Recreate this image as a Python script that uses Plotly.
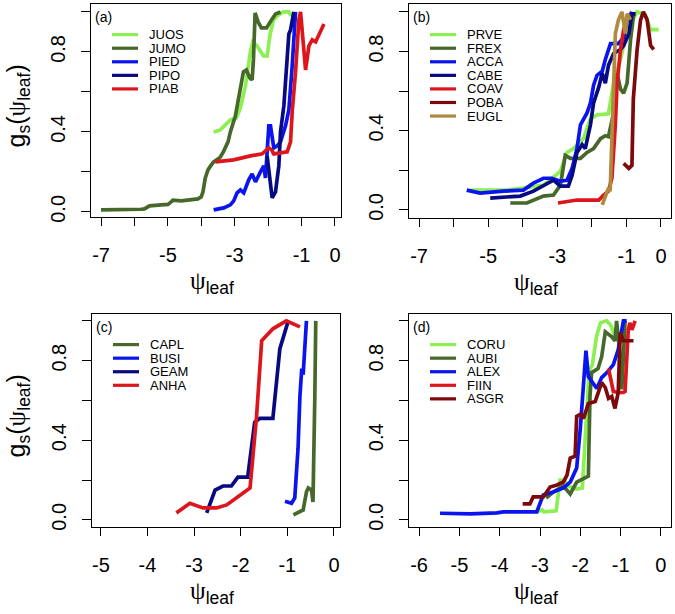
import plotly.graph_objects as go

# ---------------- data ----------------
# Panel (a)
JUOS_x = [-3.63, -3.43, -3.13, -2.95, -2.83, -2.68, -2.53, -2.46, -2.33, -2.14, -2.03, -1.94, -1.84, -1.73, -1.55, -1.38, -1.31]
JUOS_y = [0.40, 0.41, 0.46, 0.47, 0.52, 0.63, 0.80, 0.85, 0.83, 0.78, 0.78, 0.89, 0.96, 0.98, 1.0, 1.0, 0.98]
JUMO_x = [-7.0, -6.4, -5.8, -5.7, -5.55, -5.2, -5.0, -4.9, -4.85, -4.6, -4.4, -4.1, -4.0, -3.95, -3.88, -3.80, -3.70, -3.63,
          -3.45, -3.34, -3.20, -3.13, -2.98, -2.83, -2.74, -2.65, -2.55, -2.48, -2.44, -2.39, -2.30, -2.20, -2.05, -1.90, -1.78, -1.63]
JUMO_y = [0.01, 0.01, 0.013, 0.015, 0.03, 0.035, 0.037, 0.05, 0.058, 0.055, 0.06, 0.065, 0.075, 0.10, 0.17, 0.21, 0.235, 0.25,
          0.27, 0.30, 0.35, 0.40, 0.48, 0.61, 0.70, 0.71, 0.67, 0.66, 0.76, 0.995, 0.95, 0.92, 0.92, 0.96, 0.99, 1.0]
PIED_x = [-3.63, -3.33, -3.13, -3.03, -2.93, -2.83, -2.73, -2.58, -2.48, -2.38, -2.23, -2.13, -2.08, -2.03, -1.98, -1.93,
          -1.88, -1.83, -1.73, -1.63, -1.48, -1.38, -1.28, -1.18]
PIED_y = [0.01, 0.02, 0.035, 0.055, 0.095, 0.11, 0.095, 0.16, 0.19, 0.15, 0.20, 0.23, 0.17, 0.30, 0.43, 0.43,
          0.36, 0.32, 0.33, 0.35, 0.43, 0.51, 0.73, 1.0]
PIPO_x = [-2.03, -1.97, -1.92, -1.88, -1.78, -1.68, -1.63, -1.53, -1.48, -1.43, -1.38, -1.33, -1.28, -1.23]
PIPO_y = [0.28, 0.20, 0.12, 0.07, 0.10, 0.23, 0.40, 0.53, 0.65, 0.76, 0.89, 0.91, 0.96, 1.0]
PIAB_x = [-3.58, -3.03, -2.53, -2.18, -1.98, -1.90, -1.83, -1.43, -1.33, -1.28, -1.18, -1.13, -1.08, -1.03, -0.98, -0.88,
          -0.78, -0.68, -0.58, -0.48, -0.33]
PIAB_y = [0.25, 0.26, 0.28, 0.29, 0.32, 0.31, 0.29, 0.30, 0.35, 0.50, 0.70, 0.86, 0.96, 1.0, 0.89, 0.71,
          0.83, 0.86, 0.85, 0.89, 0.94]

# Panel (b)
PRVE_x = [-5.52, -4.5, -3.98, -3.40, -2.91, -2.72, -2.53, -2.24, -2.04, -1.85, -1.52, -1.37, -1.17, -0.98, -0.69, -0.45, -0.30, -0.07]
PRVE_y = [0.10, 0.10, 0.11, 0.125, 0.195, 0.29, 0.31, 0.36, 0.46, 0.48, 0.485, 0.64, 0.76, 0.91, 1.0, 0.985, 0.91, 0.91]
FREX_x = [-4.36, -3.88, -3.40, -3.11, -2.91, -2.77, -2.62, -2.33, -2.14, -1.95, -1.75, -1.61, -1.52, -1.37, -1.27, -1.17,
          -1.08, -0.98, -0.88, -0.78]
FREX_y = [0.035, 0.035, 0.07, 0.075, 0.125, 0.275, 0.26, 0.26, 0.29, 0.31, 0.36, 0.375, 0.37, 0.49, 0.69, 0.61,
          0.59, 0.64, 0.86, 1.0]
ACCA_x = [-5.62, -5.23, -4.56, -3.98, -3.69, -3.40, -3.16, -2.91, -2.72, -2.57, -2.43, -2.33, -2.14, -2.04, -1.95, -1.85,
          -1.70, -1.61, -1.46, -1.23, -1.08, -0.98, -0.84]
ACCA_y = [0.10, 0.085, 0.095, 0.10, 0.135, 0.16, 0.16, 0.145, 0.15, 0.21, 0.31, 0.43, 0.49, 0.54, 0.63, 0.68,
          0.70, 0.76, 0.84, 0.84, 0.87, 0.96, 1.0]
CABE_x = [-4.94, -4.07, -3.69, -3.40, -3.11, -2.91, -2.68, -2.57, -2.43, -2.28, -2.19, -2.04, -1.95, -1.80, -1.70, -1.61,
          -1.52, -1.37, -1.17, -1.08, -0.93, -0.84, -0.74]
CABE_y = [0.06, 0.07, 0.095, 0.125, 0.15, 0.12, 0.12, 0.175, 0.29, 0.33, 0.31, 0.43, 0.54, 0.62, 0.69, 0.64,
          0.73, 0.79, 0.81, 0.83, 0.89, 0.99, 0.99]
COAV_x = [-2.98, -2.43, -1.95, -1.80, -1.66, -1.52, -1.42, -1.32, -1.27, -1.17, -1.08, -0.93]
COAV_y = [0.035, 0.05, 0.05, 0.05, 0.075, 0.095, 0.16, 0.43, 0.64, 0.81, 0.91, 0.99]
POBA_x = [-1.08, -0.93, -0.84, -0.80, -0.69, -0.59, -0.51, -0.40, -0.30, -0.21]
POBA_y = [0.235, 0.21, 0.225, 0.56, 0.81, 0.96, 1.0, 0.96, 0.83, 0.81]
EUGL_x = [-1.70, -1.61, -1.52, -1.47, -1.42, -1.37, -1.32, -1.23, -1.13, -1.03, -0.98, -0.88]
EUGL_y = [0.025, 0.075, 0.11, 0.095, 0.39, 0.73, 0.89, 0.96, 1.0, 0.89, 0.99, 0.96]

# Panel (c)
CAPL_x = [-0.87, -0.73, -0.66, -0.59, -0.55, -0.48, -0.45, -0.41, -0.39]
CAPL_y = [0.025, 0.04, 0.05, 0.14, 0.16, 0.15, 0.09, 0.62, 1.0]
BUSI_x = [-1.05, -0.91, -0.84, -0.77, -0.73, -0.69, -0.66, -0.62, -0.59]
BUSI_y = [0.093, 0.083, 0.11, 0.36, 0.62, 0.76, 0.73, 0.87, 1.0]
GEAM_x = [-2.73, -2.55, -2.38, -2.20, -2.06, -1.85, -1.70, -1.59, -1.31, -1.16, -0.98]
GEAM_y = [0.035, 0.15, 0.17, 0.17, 0.215, 0.215, 0.49, 0.51, 0.51, 0.86, 1.0]
ANHA_x = [-3.38, -3.09, -2.81, -2.52, -2.30, -2.02, -1.80, -1.66, -1.55, -1.31, -1.02, -0.73]
ANHA_y = [0.035, 0.083, 0.06, 0.06, 0.075, 0.125, 0.16, 0.52, 0.90, 0.96, 1.0, 0.97]

# Panel (d)
CORU_x = [-3.10, -2.95, -2.90, -2.60, -2.50, -2.40, -2.30, -2.10, -1.95, -1.85, -1.78, -1.70, -1.60, -1.50, -1.35, -1.25,
          -1.15, -1.05, -0.85]
CORU_y = [0.04, 0.05, 0.04, 0.045, 0.20, 0.20, 0.17, 0.155, 0.16, 0.50, 0.75, 0.78, 0.92, 0.99, 1.0, 0.98,
          0.93, 0.90, 0.90]
AUBI_x = [-2.85, -2.67, -2.42, -2.25, -2.09, -1.92, -1.80, -1.76, -1.72, -1.56, -1.47, -1.38, -1.22, -1.14, -1.10, -1.01,
          -0.97, -0.89]
AUBI_y = [0.11, 0.14, 0.17, 0.13, 0.19, 0.21, 0.22, 0.62, 0.74, 0.76, 0.82, 0.945, 0.92, 0.90, 1.0, 0.82,
          0.655, 1.0]
ALEX_x = [-5.48, -4.73, -4.07, -3.91, -3.08, -2.92, -2.67, -2.42, -2.25, -2.09, -2.00, -1.92, -1.86, -1.80, -1.59, -1.47,
          -1.34, -1.18, -1.06, -0.93, -0.85]
ALEX_y = [0.033, 0.03, 0.035, 0.04, 0.04, 0.125, 0.14, 0.16, 0.19, 0.26, 0.46, 0.71, 0.85, 0.72, 0.66, 0.715,
          0.74, 0.78, 0.855, 1.0, 1.0]
FIIN_x = [-1.30, -1.18, -1.01, -0.93, -0.89, -0.85, -0.81, -0.77, -0.72, -0.64]
FIIN_y = [0.76, 0.645, 0.64, 0.64, 0.645, 0.80, 0.955, 0.99, 0.955, 1.0]
ASGR_x = [-3.43, -3.25, -3.17, -2.92, -2.75, -2.58, -2.42, -2.33, -2.25, -2.13, -2.09, -2.00, -1.92, -1.80, -1.63, -1.55,
          -1.47, -1.38, -1.30, -1.22, -1.14, -1.06, -1.01, -0.93, -0.68]
ASGR_y = [0.08, 0.08, 0.115, 0.115, 0.165, 0.175, 0.19, 0.225, 0.31, 0.32, 0.52, 0.53, 0.51, 0.585, 0.595, 0.64,
          0.69, 0.665, 0.61, 0.62, 0.56, 0.64, 0.94, 0.90, 0.90]

# tick labels (labelled ticks + unlabelled minor ticks, as in the reference)
A_xticks = [-7, -5, -3, -1, 0]
A_xlabels = ["-7", "-5", "-3", "-1", "0"]
A_xminor = [-6, -4, -2]
C_xticks = [-5, -4, -3, -2, -1, 0]
C_xlabels = ["-5", "-4", "-3", "-2", "-1", "0"]
D_xticks = [-6, -5, -4, -3, -2, -1, 0]
D_xlabels = ["-6", "-5", "-4", "-3", "-2", "-1", "0"]
Y_ticks = [0, 0.4, 0.8]
Y_labels = ["0.0", "0.4", "0.8"]
Y_minor = [0.2, 0.6, 1.0]

# colours
LGREEN = "#8CEF52"
DGREEN = "#46682A"
BLUE = "#0A14EE"
NAVY = "#080A82"
RED = "#DD161E"
DRED = "#7C0A0C"
TAN = "#AE8B3E"

W, H = 675, 614
FONT = "Liberation Sans, Arial, sans-serif"
PSI = '<span style="font-family:Liberation Serif, DejaVu Serif, serif">ψ</span>'

panels = [
    dict(tag="(a)", box=(91, 4, 341, 219), xr=[-7.30, 0.18], yr=[-0.025, 1.04],
         xt=A_xticks, xl=A_xlabels, xm=A_xminor, ytitle=True,
         series=[("JUOS", JUOS_x, JUOS_y, LGREEN), ("JUMO", JUMO_x, JUMO_y, DGREEN),
                 ("PIED", PIED_x, PIED_y, BLUE), ("PIPO", PIPO_x, PIPO_y, NAVY),
                 ("PIAB", PIAB_x, PIAB_y, RED)]),
    dict(tag="(b)", box=(409, 4, 671, 220), xr=[-7.29, 0.29], yr=[-0.04, 1.04],
         xt=A_xticks, xl=A_xlabels, xm=A_xminor, ytitle=False,
         series=[("PRVE", PRVE_x, PRVE_y, LGREEN), ("FREX", FREX_x, FREX_y, DGREEN),
                 ("ACCA", ACCA_x, ACCA_y, BLUE), ("CABE", CABE_x, CABE_y, NAVY),
                 ("COAV", COAV_x, COAV_y, RED), ("POBA", POBA_x, POBA_y, DRED),
                 ("EUGL", EUGL_x, EUGL_y, TAN)]),
    dict(tag="(c)", box=(92, 317, 340, 532), xr=[-5.19, 0.13], yr=[-0.035, 1.035],
         xt=C_xticks, xl=C_xlabels, xm=[], ytitle=True,
         series=[("CAPL", CAPL_x, CAPL_y, DGREEN), ("BUSI", BUSI_x, BUSI_y, BLUE),
                 ("GEAM", GEAM_x, GEAM_y, NAVY), ("ANHA", ANHA_x, ANHA_y, RED)]),
    dict(tag="(d)", box=(409, 317, 671, 532), xr=[-6.25, 0.25], yr=[-0.035, 1.035],
         xt=D_xticks, xl=D_xlabels, xm=[], ytitle=False,
         series=[("CORU", CORU_x, CORU_y, LGREEN), ("AUBI", AUBI_x, AUBI_y, DGREEN),
                 ("ALEX", ALEX_x, ALEX_y, BLUE), ("FIIN", FIIN_x, FIIN_y, RED),
                 ("ASGR", ASGR_x, ASGR_y, DRED)]),
]


def px(x):
    return x / W


def py(y):
    return 1 - y / H


fig = go.Figure()
layout = dict(width=W, height=H, margin=dict(l=0, r=0, t=0, b=0),
              paper_bgcolor="white", plot_bgcolor="white", showlegend=False,
              font=dict(family=FONT, color="black"))
annotations = []
shapes = []

for i, p in enumerate(panels):
    n = "" if i == 0 else str(i + 1)
    x0, y0, x1, y1 = p["box"]
    for name, xs, ys, col in p["series"]:
        fig.add_trace(go.Scatter(x=xs, y=ys, mode="lines", name=name,
                                 line=dict(color=col, width=3.7),
                                 xaxis="x" + n, yaxis="y" + n, hoverinfo="skip"))
    xaxis = dict(domain=[px(x0), px(x1)], range=p["xr"], anchor="y" + n,
                 showline=True, mirror=True, linecolor="black", linewidth=1.4,
                 ticks="outside", ticklen=8, tickwidth=1.3, tickcolor="black",
                 tickvals=p["xt"], ticktext=p["xl"], showgrid=False, zeroline=False,
                 tickfont=dict(size=20, family=FONT), ticklabelstandoff=12)
    if p["xm"]:
        xaxis["minor"] = dict(tickvals=p["xm"], ticks="outside", ticklen=8, tickwidth=1.3,
                              tickcolor="black", showgrid=False)
    layout["xaxis" + n] = xaxis
    layout["yaxis" + n] = dict(domain=[py(y1), py(y0)], range=p["yr"], anchor="x" + n,
                               showline=True, mirror=True, linecolor="black", linewidth=1.4,
                               ticks="outside", ticklen=9, tickwidth=1.3, tickcolor="black",
                               tickvals=Y_ticks, ticktext=Y_labels, showgrid=False, zeroline=False,
                               minor=dict(tickvals=Y_minor, ticks="outside", ticklen=9, tickwidth=1.3,
                                          tickcolor="black", showgrid=False),
                               tickangle=-90, tickfont=dict(size=20, family=FONT), ticklabelstandoff=8)
    # panel tag
    annotations.append(dict(x=px(x0 + 2), y=py(y0 + 13), xref="paper", yref="paper",
                            text=p["tag"], showarrow=False, xanchor="left", yanchor="middle",
                            font=dict(size=14, family=FONT)))
    # compact legend drawn in layout space
    for k, (name, xs, ys, col) in enumerate(p["series"]):
        ly = y0 + 31 + 13.7 * k
        shapes.append(dict(type="line", xref="paper", yref="paper",
                           x0=px(x0 + 21), x1=px(x0 + 47), y0=py(ly), y1=py(ly),
                           line=dict(color=col, width=3.2)))
        annotations.append(dict(x=px(x0 + 56), y=py(ly), xref="paper", yref="paper",
                                text=name, showarrow=False, xanchor="left", yanchor="middle",
                                font=dict(size=13, family=FONT)))
    # x axis title
    annotations.append(dict(x=px((x0 + x1) / 2 - 4), y=py(y1 + 66), xref="paper", yref="paper",
                            text=PSI + "<sub>leaf</sub>", showarrow=False,
                            xanchor="center", yanchor="middle", font=dict(size=25, family=FONT)))
    if p["ytitle"]:
        annotations.append(dict(x=px(18), y=py((y0 + y1) / 2 - 4), xref="paper", yref="paper",
                                text="g<sub>s</sub>(" + PSI + "<sub>leaf</sub>)", showarrow=False,
                                textangle=-90, xanchor="center", yanchor="middle",
                                font=dict(size=25, family=FONT)))

layout["annotations"] = annotations
layout["shapes"] = shapes
fig.update_layout(**layout)

fig.write_html("out.html", config={"displayModeBar": False},
               post_script="document.body.style.margin='0';document.body.style.padding='0';")
